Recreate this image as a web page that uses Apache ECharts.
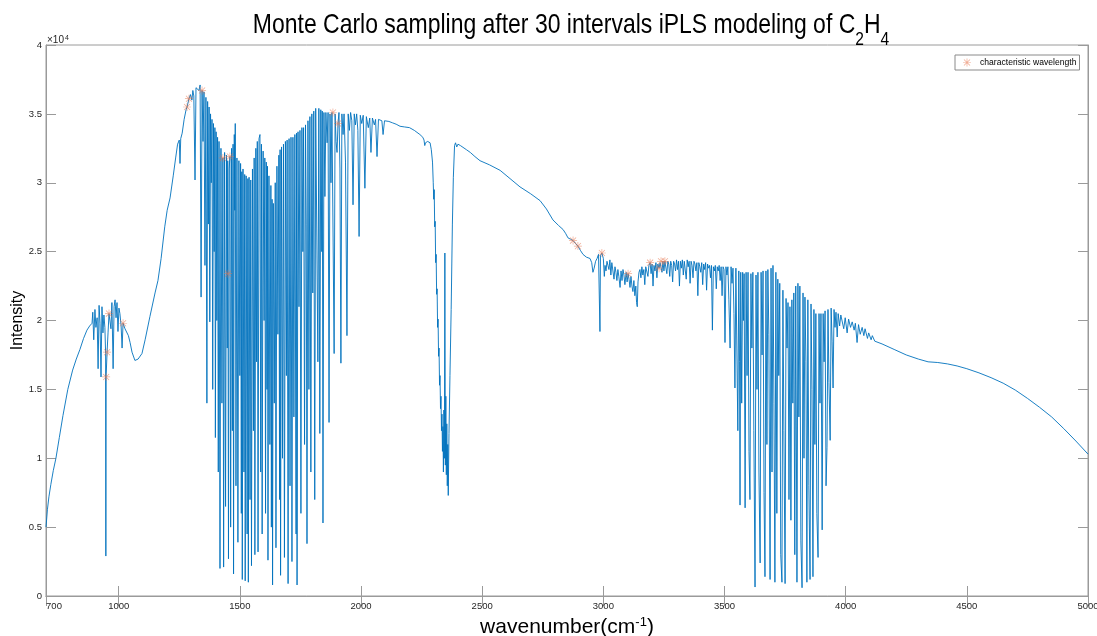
<!DOCTYPE html>
<html>
<head>
<meta charset="utf-8">
<script src="https://cdn.jsdelivr.net/npm/echarts@6/dist/echarts.min.js"></script>
<style>
html,body{margin:0;padding:0;background:#fff;}
#chart{width:1097px;height:636px;}
</style>
</head>
<body>
<div id="chart"></div>
<script>
// ---- DATA (wavenumber cm^-1, intensity) ----
const segLowBand = [[700,5000],[706,6300],[712,7200],[720,8100],[730,9100],[741,10000],[755,11500],[770,13100],[790,15000],[810,16400],[825,17200],[840,17900],[855,18700],[869,19300],[880,19600],[890,19800],[893,20600],[897,18600],[902,20800],[906,19500],[911,20200],[915,16500],[919,21100],[923,19800],[927,15900],[931,21000],[935,19100],[939,20400],[943,19500],[946,17600],[947,2900],[948,15900],[952,17700],[956,19100],[960,20500],[964,20600],[968,19400],[972,21300],[977,16500],[981,21000],[985,21500],[989,20200],[993,21300],[997,19200],[1001,20900],[1005,20500],[1010,19600],[1014,18000],[1018,19800],[1026,19400],[1034,19300],[1040,18900],[1047,18400],[1055,17700],[1067,17100],[1080,17200],[1096,17600]];
const segRise = [[1109,18600],[1129,20300],[1150,22000],[1162,22900],[1175,24500],[1190,26800],[1200,28000],[1212,28900],[1225,30500],[1235,31800],[1243,32800],[1250,33100],[1253,31400],[1256,33200],[1262,33600],[1270,34600],[1278,35300],[1282,35500],[1290,36100]];
const segDense1 = [[1296,36400],[1302,36000],[1306,36700],[1310,36300],[1315,30200],[1319,36900],[1325,37000],[1331,36700],[1336,37100],[1340,21700],[1344,36700],[1348,33000],[1352,36600],[1356,24000],[1360,36200],[1364,14000],[1367,35900],[1370,27000],[1373,35500],[1376,19900],[1379,35000],[1382,30000],[1385,34600],[1388,15000],[1391,34300],[1394,25000],[1397,34000],[1399,11500],[1402,33700],[1405,20000],[1408,33300],[1411,9000],[1414,33000],[1418,2000],[1422,32500],[1426,14000],[1430,31800],[1433,2100],[1437,32200],[1441,6500],[1445,32000],[1448,18000],[1450,31600],[1451,23400],[1453,2700],[1456,31000],[1459,31900],[1462,5000],[1466,32500],[1469,12000],[1472,32800],[1474,1600],[1477,33500],[1479,28000],[1481,34300],[1484,8000],[1488,31800],[1492,3900],[1496,31600],[1500,16000],[1503,31400],[1506,6000],[1508,30800],[1510,1200],[1513,31000],[1517,9000],[1520,30600],[1522,1100],[1526,30500],[1530,4500],[1533,30300],[1535,1000],[1538,30400],[1542,7000],[1545,30200],[1548,2200],[1552,31000],[1556,12000],[1559,31800],[1562,3000],[1566,32500],[1569,17000],[1572,33000],[1575,3200],[1579,33200],[1583,33500],[1586,9000],[1589,32800],[1592,4500],[1596,32300],[1600,20000],[1603,31800],[1606,6000],[1609,31500],[1612,15000],[1614,31200],[1616,2600],[1620,30500],[1624,11000],[1628,29800],[1630,5000],[1633,28800],[1635,800],[1638,28500],[1642,14000],[1646,30000],[1649,3500],[1653,31200],[1657,19000],[1661,32000],[1664,7000],[1666,32400],[1668,1500],[1672,32600],[1676,10000],[1680,32800],[1684,2800],[1688,33000],[1692,16000],[1695,33100],[1699,900],[1703,33200],[1707,8000],[1711,33300],[1715,2500],[1719,33300],[1723,13000],[1727,33500],[1732,4500],[1734,33600],[1736,800],[1740,33700],[1744,21000],[1748,33800],[1752,6000],[1756,34000],[1760,25000],[1763,34000],[1767,11000],[1771,34200],[1774,27000],[1777,3800],[1781,34500],[1785,15000],[1789,34800],[1793,9000],[1797,35000],[1801,22000],[1805,35200],[1809,7000],[1813,35400],[1818,35500],[1822,17000],[1826,35400],[1830,11800],[1834,35300],[1838,25000],[1840,35200],[1843,5300],[1847,35100],[1851,29000],[1855,35100],[1860,32900],[1864,35100],[1868,12600],[1872,35000],[1876,30000],[1880,35100],[1884,35100],[1889,17600],[1893,35000],[1897,33000],[1901,32200],[1905,34300],[1909,35100],[1913,31000],[1917,16900],[1921,35000],[1926,33500],[1930,35000],[1936,31500],[1942,18900],[1947,35000],[1952,33800],[1957,35100],[1962,34500],[1967,28400],[1972,35000],[1977,34200],[1982,35000],[1987,33800],[1992,26100],[1997,34900],[2003,34300],[2009,34900],[2016,29600],[2022,34800],[2030,34000],[2036,34700],[2041,32200],[2047,34700],[2055,34200],[2060,34600],[2066,31900],[2072,34600],[2080,34500],[2086,34500],[2091,33500],[2097,34500],[2105,34400]];
const segCO2 = [[2115,34450],[2130,34350],[2145,34250],[2161,34100],[2180,34050],[2200,34000],[2220,33800],[2243,33500],[2255,33300],[2260,33100],[2263,32700],[2266,32900],[2270,32800],[2275,33000],[2285,32900],[2290,32400],[2295,31500],[2298,30000],[2300,28800],[2302,29500],[2304,26800],[2306,27200],[2308,24200],[2310,24800],[2312,21900],[2314,22300],[2316,19500],[2318,20100],[2320,17400],[2322,18000],[2324,15300],[2326,16000],[2328,13600],[2330,14500],[2332,12000],[2334,13200],[2336,10500],[2338,12300],[2340,9000],[2342,13500],[2344,10000],[2346,24900],[2348,9500],[2350,14500],[2352,8800],[2354,12500],[2356,8000],[2358,11000],[2360,7300],[2363,11800],[2367,16000],[2372,20800],[2377,27000],[2381,30400],[2386,32700],[2390,32900],[2395,32600],[2400,32800],[2410,32700],[2417,32600]];
const segMid = [[2435,32400],[2451,32200],[2470,31900],[2491,31600],[2530,31300],[2574,30900],[2615,30300],[2656,29700],[2700,29200],[2739,28700],[2765,28100],[2792,27300],[2815,26900],[2834,26600],[2845,26300],[2854,26000],[2865,25900],[2875,25800],[2885,25600],[2895,25400],[2905,25100],[2916,24800],[2930,24600],[2945,24500],[2952,24200],[2957,23500],[2962,23800],[2968,24300],[2974,24500],[2980,24800],[2984,24900],[2986,19200],[2988,24700],[2994,24900],[3000,24500],[3004,23200],[3007,24000],[3011,23600],[3015,24300],[3019,24000],[3023,23700],[3027,24400],[3031,23300],[3035,24200],[3040,24200],[3044,23000],[3048,23900],[3052,23500],[3056,22900],[3060,23700],[3064,23200],[3069,22400],[3073,23600],[3077,22900],[3081,23700],[3085,23300],[3089,22600],[3094,23500],[3098,22800],[3102,23400],[3106,23000],[3110,22400],[3114,23200],[3118,22500],[3122,22100],[3126,22900],[3130,21800],[3134,22500],[3137,21300],[3140,21000],[3143,22800],[3147,23500],[3151,23700],[3155,23100],[3159,23900],[3163,23300],[3167,23700],[3171,22600],[3175,23900],[3180,23800],[3184,23200],[3188,24000],[3193,24200],[3197,23400],[3201,24100],[3205,22500],[3209,24000],[3213,23600],[3217,24200],[3221,23100],[3225,24100],[3230,23800],[3234,24200],[3238,24300],[3242,23500],[3246,24300],[3250,23600],[3254,24300],[3258,24200],[3262,23400],[3266,24300],[3270,24100],[3274,23200],[3278,24300],[3282,24000],[3286,22800],[3290,24300],[3294,24100],[3298,23600],[3302,24400],[3306,23700],[3310,24300],[3314,22500],[3318,24300],[3322,23800],[3326,24400],[3330,23300],[3334,24300],[3338,24200],[3342,23000],[3346,24400],[3350,23900],[3354,24300],[3358,22700],[3362,24300],[3366,24000],[3370,23100],[3374,24300],[3378,24100],[3382,23600],[3386,24200],[3390,21800],[3394,24200],[3398,23900],[3402,23500],[3406,24200],[3410,22600],[3414,24100],[3418,23700],[3422,24200],[3426,22200],[3430,24100],[3434,23800],[3438,24000],[3442,23100],[3446,24000],[3450,19300],[3454,23900],[3458,23600],[3462,24000],[3466,22300],[3470,23900],[3474,23600],[3478,24000],[3482,22900],[3486,23900],[3490,21800],[3494,23900],[3498,23700],[3502,18400],[3506,23900],[3510,23300],[3514,23900],[3518,21500],[3523,18000],[3527,23900],[3531,22700],[3535,23800],[3539,20500],[3543,15100],[3547,23800]];
const segDense2 = [[3551,23700],[3555,12000],[3559,23600],[3562,17000],[3564,6600],[3567,23500],[3571,14000],[3575,23500],[3578,20000],[3581,23400],[3585,6400],[3589,23500],[3593,16000],[3597,23500],[3601,10500],[3605,7000],[3609,23400],[3613,18000],[3617,23500],[3621,12000],[3626,650],[3630,23300],[3634,15000],[3638,23500],[3642,9000],[3647,2400],[3651,23500],[3655,17500],[3659,23600],[3663,7500],[3667,1400],[3671,23600],[3675,11000],[3679,23700],[3683,19000],[3688,1200],[3692,23800],[3696,9000],[3700,24000],[3704,14000],[3708,1000],[3712,23500],[3716,6000],[3720,23000],[3724,16000],[3728,22700],[3732,3000],[3737,1000],[3741,22200],[3745,12000],[3750,900],[3754,21600],[3758,18000],[3762,21300],[3766,7000],[3770,21000],[3774,5500],[3778,21500],[3782,14000],[3786,22000],[3790,3000],[3794,22500],[3799,1000],[3803,22700],[3807,13000],[3811,22500],[3815,4000],[3820,600],[3824,22000],[3828,10000],[3832,21700],[3836,17000],[3840,1000],[3844,21500],[3848,8000],[3853,1200],[3857,21200],[3861,15000],[3865,1400],[3869,20800],[3873,11000],[3877,20500],[3881,6000],[3886,2800],[3890,20500],[3894,14000],[3898,20500],[3903,4800],[3907,20500],[3911,17000],[3915,20700],[3919,8000],[3923,10800],[3927,20800],[3931,15500],[3936,11300],[3940,20900],[3944,18500],[3948,15100],[3952,20800],[3956,19500],[3960,20600],[3965,18800],[3969,20500],[3975,19600],[3980,20400],[3986,20300],[3992,19400],[3998,20200],[4006,19100],[4012,20100],[4020,19500],[4027,19900],[4035,19300],[4040,19800],[4047,18400],[4053,19700],[4060,19000],[4068,19500]];
const segTail = [[4075,18900],[4080,19400],[4090,18700],[4095,19100],[4105,18600],[4110,18900],[4120,18500],[4150,18300],[4200,17900],[4250,17500],[4300,17200],[4340,17000],[4380,16950],[4420,16850],[4460,16700],[4500,16500],[4550,16200],[4600,15850],[4650,15450],[4700,14950],[4750,14350],[4800,13700],[4850,13000],[4900,12150],[4950,11250],[5000,10300]];

const charWavenumber = [948,952,960,1018,1282,1290,1344,1430,1451,1459,1884,1905,2875,2895,2994,3102,3193,3230,3238,3254];
const charIntensity  = [15900,17700,20500,19800,35500,36100,36700,31800,23400,31900,35100,34300,25800,25400,24900,23400,24200,23800,24300,24300];

const xTickValues = [700,1000,1500,2000,2500,3000,3500,4000,4500,5000];

// ---- BUILD ----
const spectrum = [].concat(segLowBand, segRise, segDense1, segCO2, segMid, segDense2, segTail);
const charPoints = charWavenumber.map((w, i) => [w, charIntensity[i]]);

const FONT = '"Liberation Sans", Arial, Helvetica, sans-serif';
const AX = '#9a9a9a';
const TXT = '#262626';
const STAR = 'path://M0,4.55H10V5.45H0Z M4.55,0H5.45V10H4.55Z M0.9,1.55L1.55,0.9L9.1,8.45L8.45,9.1Z M8.45,0.9L9.1,1.55L1.55,9.1L0.9,8.45Z';
const starColor = 'rgba(230,115,75,0.75)';

const chart = echarts.init(document.getElementById('chart'), null, {renderer: 'canvas'});
chart.setOption({
  animation: false,
  backgroundColor: '#fff',
  grid: {left: 46, right: 9, top: 45, bottom: 40, outerBoundsMode: 'none', containLabel: false,
         show: true, borderColor: AX, borderWidth: 1, backgroundColor: '#fff'},
  legend: {
    left: 955, top: 55,
    padding: [3, 3, 3, 8],
    itemWidth: 8, itemHeight: 8, itemGap: 0,
    borderColor: '#8a8a8a', borderWidth: 1, backgroundColor: '#fff', borderRadius: 0,
    textStyle: {fontFamily: FONT, fontSize: 8.6, color: '#000', padding: [0,0,0,4]},
    data: [{name: 'characteristic wavelength', icon: STAR}]
  },
  graphic: [
    {type: 'text', x: 571, y: 10, scaleX: 0.82, z: 10,
     style: {
       text: 'Monte Carlo sampling after 30 intervals iPLS modeling of C{s|2}H{s|4}',
       fontFamily: FONT, fontSize: 28, lineHeight: 30,
       align: 'center', verticalAlign: 'top', fill: '#000',
       rich: {
         s: {fontFamily: FONT, fontSize: 19, lineHeight: 19, verticalAlign: 'bottom', padding: [0,0,-9,0], fill: '#000'}
       }
     }},
    {type: 'text', x: 47, y: 35, z: 10,
     style: {text: '×10{sup|4}', fontFamily: FONT, fontSize: 10, fill: TXT, verticalAlign: 'top',
      rich: {sup: {fontSize: 7, fontFamily: FONT, fill: TXT, verticalAlign: 'top', padding: [0,0,0,1]}}}}
  ],
  xAxis: [{
    type: 'value', min: 700, max: 5000, position: 'bottom',
    name: 'wavenumber(cm{sup|-1})', nameLocation: 'middle', nameGap: 20,
    nameTextStyle: {fontFamily: FONT, fontSize: 21, color: '#000',
      rich: {sup: {fontFamily: FONT, fontSize: 13, color: '#000', verticalAlign: 'top', padding: [0,0,10,0]}}},
    axisLine: {show: true, lineStyle: {color: AX, width: 1}},
    axisTick: {show: true, inside: true, length: 10, customValues: xTickValues, lineStyle: {color: AX}},
    axisLabel: {customValues: xTickValues, margin: 5, fontFamily: FONT, fontSize: 9.5, color: TXT,
      formatter: v => v === 700 ? '{a|700}' : String(v),
      rich: {a: {fontFamily: FONT, fontSize: 9.5, color: TXT, padding: [0,0,0,16]}}},
    splitLine: {show: false}
  }, {
    type: 'value', min: 700, max: 5000, position: 'top',
    axisLine: {show: true, lineStyle: {color: AX}},
    axisTick: {show: true, inside: true, length: 10, customValues: xTickValues, lineStyle: {color: AX}},
    axisLabel: {show: false},
    splitLine: {show: false}
  }],
  yAxis: [{
    type: 'value', min: 0, max: 40000, interval: 5000, position: 'left',
    name: 'Intensity', nameLocation: 'middle', nameGap: 20, nameMoveOverlap: false,
    nameTextStyle: {fontFamily: FONT, fontSize: 16, color: '#000'},
    axisLine: {show: true, lineStyle: {color: AX}},
    axisTick: {show: true, inside: true, length: 10, lineStyle: {color: AX}},
    axisLabel: {margin: 4, fontFamily: FONT, fontSize: 9.5, color: TXT, formatter: v => String(v / 10000)},
    splitLine: {show: false}
  }, {
    type: 'value', min: 0, max: 40000, interval: 5000, position: 'right',
    axisLine: {show: true, lineStyle: {color: AX}},
    axisTick: {show: true, inside: true, length: 10, lineStyle: {color: AX}},
    axisLabel: {show: false},
    splitLine: {show: false}
  }],
  series: [{
    name: 'spectrum', type: 'line', data: spectrum, xAxisIndex: 0, yAxisIndex: 0,
    showSymbol: false, symbol: 'none', silent: true,
    lineStyle: {color: '#0072BD', width: 0.9},
    z: 2
  }, {
    name: 'characteristic wavelength', type: 'scatter', data: charPoints, xAxisIndex: 0, yAxisIndex: 0,
    symbol: STAR, symbolSize: 8,
    itemStyle: {color: starColor},
    z: 3
  }]
});
</script>
</body>
</html>
